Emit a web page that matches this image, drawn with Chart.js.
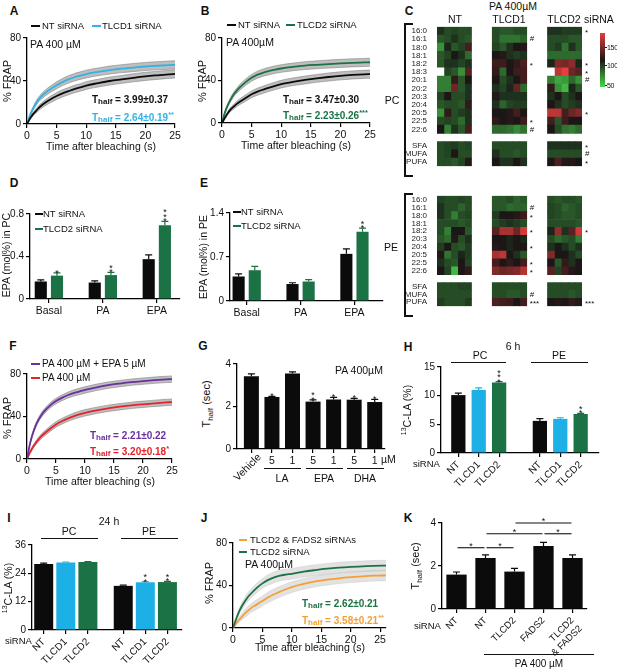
<!DOCTYPE html>
<html>
<head>
<meta charset="utf-8">
<script src="https://cdn.jsdelivr.net/npm/chart.js@4.4.0/dist/chart.umd.min.js"></script>
<style>
body{margin:0;background:#fff;}
#fig{position:relative;width:617px;height:670px;overflow:hidden;font-family:'Liberation Sans',Arial,sans-serif;color:#111;}
#fig canvas{position:absolute;}
.t{position:absolute;white-space:nowrap;font-size:10.5px;line-height:1;}
.c{transform:translate(-50%,-50%);}
.l{transform:translate(0,-50%);}
.r90{transform:translate(-50%,-50%) rotate(-90deg);}
.r45{transform:translate(-50%,-50%) rotate(-45deg);}
.pl{font-weight:bold;font-size:12px;}
.th{font-family:'Liberation Sans Narrow','Liberation Sans',Arial,sans-serif;font-weight:bold;font-size:10px;}
.th sub{font-size:8px;vertical-align:-1px;}
.th sup{font-size:7.5px;vertical-align:4px;}
.nw{font-family:'Liberation Sans Narrow','Liberation Sans',Arial,sans-serif;letter-spacing:-0.3px;}
.ln{position:absolute;background:#111;}
</style>
</head>
<body>
<div id="fig"></div>
<script>
// ---- FRAP curves (time in s, % FRAP) ----
var frapTime=[0,0.5,1,1.5,2,2.5,3,4,5,6,7,8,9,10,12,14,16,18,20,22,24,25];
var aNT=[0,5,9,12,15,17.5,19.5,23,26,28.5,30.5,32.5,34,35.8,38,40,41.5,43,44.3,45.3,46.2,46.6];
var aTLCD1=[0,8,14,19,23,26,28.5,32.5,36,39,41.5,43.5,45,46.5,48.5,50.2,51.5,52.5,53.5,54.2,54.8,55];
var bNT=[0,5,9.5,13,15.5,18,20,23.5,27,29.5,31.5,33.3,35,36.6,38.8,40.5,42,43.3,44.4,45.2,45.8,46];
var bTLCD2=[0,10,17,22.5,27,30.5,33.5,38.5,42.5,45.5,47.5,49,50.3,51.3,52.8,54,54.8,55.5,56.1,56.6,57,57.2];
var semAB=[0,1,1.5,2,2.2,2.5,2.7,3,3.2,3.3,3.4,3.5,3.5,3.6,3.6,3.7,3.7,3.8,3.8,3.8,3.8,3.8];
var fEPA=[0,14,24,31.5,37,41.5,45,50.5,54.5,57.5,60,62,63.5,65,67.5,69.5,71,72.3,73.3,74.2,74.9,75.2];
var fPA=[0,6,11,15,18.5,21.5,24,28.5,32.5,35.5,38,40.2,42,43.5,45.8,47.7,49.2,50.5,51.5,52.4,53.2,53.5];
var semF=[0,1,1.5,1.8,2,2.2,2.3,2.5,2.6,2.7,2.8,2.9,3,3,3,3,3,3,3,3,3,3];
var jTime=[0,0.5,1,1.5,2,2.5,3,4,5,6,7,8,9,10,12,14,16,18,20,22,24,26];
var jTLCD2=[0,8,15,20.5,25,29,32,37.5,42,45.3,47.7,49.4,50.3,51,53,54.5,55.8,56.8,57.5,58,58.5,58.8];
var jBoth=[0,4,7.5,10.5,13.5,16,18.5,22,25.5,29,31.8,34.2,36.5,38.5,41.5,43.8,45.5,46.8,47.8,48.6,49.2,49.5];
var semJ=[0,1.5,2.5,3,3.5,4,4,4.5,4.5,5,5,5,5,5,5,5,5,5,5,5,5,5];

// ---- D / E : EPA (mol%) ----
var deCats=['Basal','PA','EPA'];
var dNT=[0.165,0.155,0.375], dNTerr=[0.015,0.015,0.04];
var dTLCD2=[0.22,0.225,0.695], dTLCD2err=[0.025,0.025,0.035];
var dMarks=['*','**','***'];
var eNT=[0.39,0.27,0.75], eNTerr=[0.04,0.02,0.08];
var eTLCD2=[0.49,0.31,1.10], eTLCD2err=[0.06,0.03,0.06];
var eMarks=['','','**'];

// ---- G : Thalf with fatty acids ----
var gLabels=['Vehicle','5','1','5','1','5','1'];
var gVals=[3.42,2.45,3.55,2.23,2.33,2.32,2.21];
var gErr=[0.12,0.03,0.08,0.08,0.1,0.06,0.13];
var gMarks=['','*','','**','*','*','*'];

// ---- H / I : 13C-LA ----
var hiLabels=['NT','TLCD1','TLCD2','NT','TLCD1','TLCD2'];
var hVals=[10.1,11.0,12.3,5.6,5.95,6.8];
var hErr=[0.35,0.35,0.15,0.4,0.2,0.1];
var hMarks=['','','***','','','**'];
var iVals=[28.0,28.6,28.8,18.7,20.2,20.3];
var iErr=[0.3,0.2,0.2,0.3,0.3,0.3];
var iMarks=['','','','','**','**'];

// ---- K ----
var kLabels=['NT','NT','TLCD2','FADS2',['TLCD2','& FADS2']];
var kVals=[1.6,2.37,1.74,2.93,2.37];
var kErr=[0.12,0.15,0.15,0.17,0.15];
var kPairs=[[0,1,2.85],[1,2,2.85],[1,3,3.5],[3,4,3.5],[2,4,4.0]];

// ---- C : heat map (% of control) ----
var pcRows=['16:0','16:1','18:0','18:1','18:2','18:3','20:1','20:2','20:3','20:4','20:5','22:5','22:6','','SFA','MUFA','PUFA'];
var pcNT=[[95,88,90,88,88],[85,88,95,88,85],[70,98,85,90,110],[85,90,100,95,80],[85,95,95,90,95],[null,90,85,70,115],[75,75,105,85,100],[75,75,120,85,95],[90,100,88,88,95],[85,88,88,85,105],[70,105,88,92,95],[88,90,88,80,95],[100,75,95,85,110],[88,90,92,88,90],[88,90,100,88,88],[88,88,85,90,102]];
var pcTLCD1=[[88,85,85,88,88],[88,78,78,78,82],[90,85,95,100,102],[100,102,95,92,95],[108,108,100,105,112],[105,80,100,108,110],[100,88,95,100,110],[95,90,98,118,80],[102,95,95,95,95],[95,82,90,92,92],[100,100,102,110,100],[105,100,102,100,108],[80,80,78,72,78],[88,88,88,88,88],[95,88,88,85,88],[100,95,95,100,95]];
var pcTLCD2=[[95,95,92,92,92],[88,88,88,85,85],[88,92,78,95,85],[80,80,80,80,80],[98,125,122,128,98],[null,140,150,120,115],[75,65,68,80,70],[105,70,60,98,85],[95,100,88,95,100],[100,95,88,92,95],[140,140,110,120,125],[110,85,108,100,100],[100,88,78,75,80],[95,95,95,95,95],[88,88,88,88,88],[100,112,102,102,100]];
var pcMarksTLCD1=['','#','','','*','','','','','','','*','#','','',''];
var pcMarksTLCD2=['*','','','','*','*','#','','','','*','','','*','#','*'];
var peRows=['16:0','16:1','18:0','18:1','18:2','20:3','20:4','20:5','22:5','22:6','','SFA','MUFA','PUFA'];
var peNT=[[90,88,88,90,88],[95,88,88,82,88],[95,88,75,88,90],[88,88,88,85,88],[88,75,100,100,85],[85,80,102,88,95],[92,100,88,85,92],[102,78,88,98,92],[95,88,85,100,90],[100,90,60,100,105],[88,88,88,90,90],[88,88,88,88,88],[92,88,88,88,92]];
var peTLCD1=[[85,85,88,82,85],[85,85,80,82,82],[92,100,100,102,108],[88,92,95,92,88],[115,135,135,120,145],[100,100,98,100,98],[102,100,98,100,100],[135,140,100,95,85],[110,100,105,100,110],[125,120,122,125,138],[88,88,88,88,88],[88,88,85,85,88],[112,110,108,100,110]];
var peTLCD2=[[88,85,88,88,85],[90,88,82,85,88],[90,88,85,85,88],[88,88,88,88,85],[98,130,95,115,145],[88,80,85,88,75],[95,100,95,88,95],[125,100,100,95,88],[100,85,105,95,100],[115,90,110,102,100],[88,88,88,88,88],[88,88,88,85,88],[100,102,100,105,102]];
var peMarksTLCD1=['','#','*','','*','','*','','*','*','','#','***'];
var peMarksTLCD2=['','','','','*','','','','','','','','***'];

var BLACK='#0b0b0b', BLUE='#1cb0e6', GREEN='#1b7244', PURPLE='#6b2fa0', RED='#e5232b', ORANGE='#f4a033';
var FONT="'Liberation Sans', Arial, sans-serif";

Chart.defaults.font.family=FONT;
Chart.defaults.font.size=10;
Chart.defaults.color='#111';
Chart.defaults.animation=false;
Chart.defaults.plugins.legend.display=false;
Chart.defaults.plugins.tooltip.enabled=false;

// error bars + significance stars on bars
Chart.register({
  id:'errs',
  afterDatasetsDraw:function(chart){
    var ctx=chart.ctx, ys=chart.scales.y;
    chart.data.datasets.forEach(function(ds,di){
      if(!ds.errors) return;
      var meta=chart.getDatasetMeta(di);
      meta.data.forEach(function(bar,i){
        var v=ds.data[i].y, e=ds.errors[i];
        var col=Array.isArray(ds.backgroundColor)?ds.backgroundColor[i]:ds.backgroundColor;
        var top=ys.getPixelForValue(v+e);
        ctx.save();
        ctx.strokeStyle=col; ctx.lineWidth=1.2;
        ctx.beginPath(); ctx.moveTo(bar.x,bar.y); ctx.lineTo(bar.x,top);
        ctx.moveTo(bar.x-3.5,top); ctx.lineTo(bar.x+3.5,top); ctx.stroke();
        var m=ds.marks?ds.marks[i]:'';
        ctx.fillStyle='#111'; ctx.font="9px "+FONT; ctx.textAlign='center';
        for(var k=0;k<m.length;k++) ctx.fillText(m[k],bar.x,top+3-k*4.5);
        ctx.restore();
      });
    });
  }
});

var fig=document.getElementById('fig');

function mount(plot,m){
  var c=document.createElement('canvas');
  var w=plot[2]-plot[0]+m.l+m.r, h=plot[3]-plot[1]+m.t+m.b;
  c.width=w; c.height=h;
  c.style.left=(plot[0]-m.l)+'px'; c.style.top=(plot[1]-m.t)+'px';
  c.style.width=w+'px'; c.style.height=h+'px';
  fig.appendChild(c);
  return c;
}
function yAxis(min,max,step,m){
  return {type:'linear',min:min,max:max,
    ticks:{stepSize:step,padding:2,font:{size:10},color:'#111'},
    grid:{drawOnChartArea:false,tickLength:4,color:'#000',lineWidth:1.2},
    border:{color:'#000',width:1.3},
    afterFit:function(s){s.width=m.l;}};
}
function xAxis(min,max,tickVals,labels,m,rot,fs){
  return {type:'linear',min:min,max:max,offset:false,
    afterBuildTicks:function(s){s.ticks=tickVals.map(function(v){return {value:v};});},
    ticks:{autoSkip:false,padding:2,font:{size:fs||10.5},color:'#111',minRotation:rot||0,maxRotation:rot||0,
      callback:function(v,i){return labels?labels[i]:v;}},
    grid:{offset:false,drawOnChartArea:false,tickLength:4,color:'#000',lineWidth:1.2},
    border:{color:'#000',width:1.3},
    afterFit:function(s){s.height=m.b;}};
}
function opts(m,x,y){
  return {responsive:false,layout:{padding:{left:0,top:m.t,right:m.r,bottom:0}},scales:{x:x,y:y}};
}
function pts(xs,vs){return xs.map(function(x,i){return {x:x,y:vs[i]};});}

function frapChart(plot,xmax,series){
  var m={l:24,t:8,r:10,b:20};
  var c=mount(plot,m);
  var ds=[];
  series.forEach(function(s){
    ds.push({data:pts(s.t,s.v),borderColor:s.color,borderWidth:1.8,pointRadius:0,fill:false,cubicInterpolationMode:'monotone'});
  });
  series.forEach(function(s){
    ds.push({data:pts(s.t,s.v.map(function(v,i){return v+s.sem[i];})),borderColor:s.edge,borderWidth:0.6,pointRadius:0,fill:false,cubicInterpolationMode:'monotone'});
    ds.push({data:pts(s.t,s.v.map(function(v,i){return Math.max(0,v-s.sem[i]);})),borderColor:s.edge,borderWidth:0.6,pointRadius:0,fill:'-1',backgroundColor:s.band,cubicInterpolationMode:'monotone'});
  });
  new Chart(c,{type:'line',data:{datasets:ds},
    options:opts(m,xAxis(0,xmax,[0,5,10,15,20,25],null,m),yAxis(0,80,40,m))});
}

function barChart(plot,m,xr,xs,labels,rot,yr,datasets,extraPlugins,fs){
  var c=mount(plot,m);
  new Chart(c,{type:'bar',data:{datasets:datasets},
    options:opts(m,xAxis(xr[0],xr[1],xs,labels,m,rot,fs),yAxis(yr[0],yr[1],yr[2],m)),
    plugins:extraPlugins||[]});
}

function heat(v){
  if(v==null) return 'rgba(255,255,255,1)';
  var t=Math.max(-1,Math.min(1,(v-100)/50));
  if(t<0){var a=-t;return 'rgb('+Math.round(24+55*a)+','+Math.round(30+190*a)+','+Math.round(24+55*a)+')';}
  return 'rgb('+Math.round(28+200*t)+','+Math.round(22+40*t)+','+Math.round(22+40*t)+')';
}

function heatChart(plot,rows,groups,marks){
  var m={l:37,t:4,r:26,b:0};
  var c=mount(plot,m);
  var gap=rows.indexOf('');
  var ds=[];
  groups.forEach(function(g,gi){
    for(var col=0;col<5;col++){
      ds.push({data:rows.map(function(){return 1;}),borderWidth:0,barPercentage:1,categoryPercentage:1,
        backgroundColor:rows.map(function(r,ri){
          if(ri===gap) return 'rgba(0,0,0,0)';
          return heat(g[ri<gap?ri:ri-1][col]);})});
    }
    if(gi<2) for(var k=0;k<3;k++) ds.push({data:rows.map(function(){return 1;}),backgroundColor:'rgba(0,0,0,0)',borderWidth:0,barPercentage:1,categoryPercentage:1});
  });
  new Chart(c,{type:'bar',data:{labels:rows,datasets:ds},
    options:{indexAxis:'y',responsive:false,layout:{padding:{left:0,top:m.t,right:m.r,bottom:0}},
      scales:{x:{stacked:true,min:0,max:21,display:false},
        y:{stacked:true,grid:{display:false},border:{display:false},
          ticks:{padding:2,font:{size:8},color:'#222',autoSkip:false},
          afterFit:function(s){s.width=m.l;}}}},
    plugins:[{id:'cellmarks',afterDraw:function(ch){
      var ctx=ch.ctx,xs=ch.scales.x,ys=ch.scales.y;
      ctx.save();ctx.fillStyle='#111';ctx.font="8px "+FONT;ctx.textBaseline='middle';
      marks.forEach(function(mk){
        var x=xs.getPixelForValue(mk.end)+3;
        rows.forEach(function(r,ri){
          if(ri===gap) return;
          var s=mk.list[ri<gap?ri:ri-1];
          if(s) ctx.fillText(s,x,ys.getPixelForValue(ri)+(s==='#'?0:2));
        });
      });
      ctx.restore();
    }}]});
}

// ---------- charts ----------
frapChart([27,38,175,124],25,[
  {t:frapTime,v:aNT,sem:semAB,color:BLACK,band:'rgba(125,125,125,0.5)',edge:'rgba(110,110,110,0.8)'},
  {t:frapTime,v:aTLCD1,sem:semAB,color:'#33b3e3',band:'rgba(125,125,125,0.5)',edge:'rgba(110,110,110,0.8)'}]);
frapChart([222,38,370,123],25,[
  {t:frapTime,v:bNT,sem:semAB,color:BLACK,band:'rgba(125,125,125,0.5)',edge:'rgba(110,110,110,0.8)'},
  {t:frapTime,v:bTLCD2,sem:semAB,color:GREEN,band:'rgba(125,125,125,0.5)',edge:'rgba(110,110,110,0.8)'}]);
frapChart([27,374,172,459],25,[
  {t:frapTime,v:fEPA,sem:semF,color:PURPLE,band:'rgba(125,125,125,0.5)',edge:'rgba(110,110,110,0.8)'},
  {t:frapTime,v:fPA,sem:semF,color:RED,band:'rgba(125,125,125,0.5)',edge:'rgba(110,110,110,0.8)'}]);
frapChart([233,543,386,628],26,[
  {t:jTime,v:jTLCD2,sem:semJ,color:GREEN,band:'rgba(190,190,190,0.45)',edge:'rgba(200,200,200,0.8)'},
  {t:jTime,v:jBoth,sem:semJ,color:ORANGE,band:'rgba(190,190,190,0.45)',edge:'rgba(200,200,200,0.8)'}]);

function grouped(a,ae,b,be,marks){
  return [
    {data:pts([1,2,3],a),errors:ae,backgroundColor:BLACK,barPercentage:0.75,categoryPercentage:0.6},
    {data:pts([1,2,3],b),errors:be,marks:marks,backgroundColor:GREEN,barPercentage:0.75,categoryPercentage:0.6}];
}
barChart([30,214,180,299],{l:22,t:8,r:8,b:18},[0.65,3.43],[1,2,3],deCats,0,[0,0.8,0.4],
  grouped(dNT,dNTerr,dTLCD2,dTLCD2err,dMarks));
barChart([230,213,383,301],{l:22,t:8,r:8,b:18},[0.69,3.53],[1,2,3],deCats,0,[0,1.4,0.7],
  grouped(eNT,eNTerr,eTLCD2,eTLCD2err,eMarks));

barChart([237,364,385,449],{l:16,t:8,r:8,b:20},[0.3,7.5],[1,2,3,4,5,6,7],
  gLabels.map(function(l,i){return i===0?'':l;}),0,[0,4,2],
  [{data:pts([1,2,3,4,5,6,7],gVals),errors:gErr,marks:gMarks,backgroundColor:BLACK,barPercentage:0.73,categoryPercentage:1}]);

var hiCols=[BLACK,BLUE,GREEN,BLACK,BLUE,GREEN];
barChart([441,367,599,453],{l:20,t:8,r:6,b:36},[0.15,7.9],[1,2,3,5,6,7],hiLabels,45,[0,15,5],
  [{data:pts([1,2,3,5,6,7],hVals),errors:hErr,marks:hMarks,backgroundColor:hiCols,barPercentage:0.7,categoryPercentage:1}],null,10);
barChart([32,545,182,630],{l:20,t:8,r:6,b:38},[0.47,7.26],[1,2,3,4.6,5.6,6.6],hiLabels,45,[0,36,12],
  [{data:pts([1,2,3,4.6,5.6,6.6],iVals),errors:iErr,marks:iMarks,backgroundColor:hiCols,barPercentage:0.86,categoryPercentage:1}],null,10);

barChart([442,523,587,609],{l:18,t:8,r:8,b:48},[0.5,5.5],[1,2,3,4,5],kLabels,45,[0,4,2],
  [{data:pts([1,2,3,4,5],kVals),errors:kErr,backgroundColor:BLACK,barPercentage:0.7,categoryPercentage:1}],
  [{id:'kpairs',afterDatasetsDraw:function(ch){
    var ctx=ch.ctx,xs=ch.scales.x,ys=ch.scales.y;
    ctx.save();ctx.strokeStyle='#111';ctx.lineWidth=1.1;ctx.fillStyle='#111';ctx.font="9px "+FONT;ctx.textAlign='center';
    kPairs.forEach(function(p){
      var x0=xs.getPixelForValue(p[0]+1)+1,x1=xs.getPixelForValue(p[1]+1)-1,y=ys.getPixelForValue(p[2]);
      ctx.beginPath();ctx.moveTo(x0,y);ctx.lineTo(x1,y);ctx.stroke();
      ctx.fillText('*',(x0+x1)/2,y+1);
    });
    ctx.restore();
  }}],9.5);

heatChart([437,24,582,173],pcRows,[pcNT,pcTLCD1,pcTLCD2],[{end:13,list:pcMarksTLCD1},{end:21,list:pcMarksTLCD2}]);
heatChart([437,193,582,313],peRows,[peNT,peTLCD1,peTLCD2],[{end:13,list:peMarksTLCD1},{end:21,list:peMarksTLCD2}]);

// ---------- text & decorations ----------
function txt(html,x,y,cls,size,color){
  var d=document.createElement('div');
  d.className='t '+(cls||'c');
  d.innerHTML=html;d.style.left=x+'px';d.style.top=y+'px';
  if(size) d.style.fontSize=size+'px';
  if(color) d.style.color=color;
  fig.appendChild(d);
}
function line(x,y,w,h,color){
  var d=document.createElement('div');
  d.className='ln';d.style.left=x+'px';d.style.top=y+'px';d.style.width=w+'px';d.style.height=h+'px';
  if(color) d.style.background=color;
  fig.appendChild(d);
}
function dash(x,y,w,color){line(x,y-1,w,2,color);}
function thalf(val,x,y,color,star){
  txt('T<sub>half</sub> = '+val+(star?'<sup>'+star+'</sup>':''),x,y,'l th',null,color);
}

[['A',14,11],['B',205,11],['C',409,11],['D',14,183],['E',204,183],['F',13,346],['G',203,346],['H',408,347],['I',9,518],['J',204,518],['K',408,518]]
  .forEach(function(p){txt(p[0],p[1],p[2],'c pl');});

// A
dash(31,26,9,BLACK);txt('NT siRNA',42,26,'l',9.5);
dash(92,26,9,'#33b3e3');txt('TLCD1 siRNA',102,26,'l',9.5);
txt('PA 400 µM',30,44,'l',10.5);
txt('% FRAP',7,81,'r90',11);
txt('Time after bleaching (s)',101,146,'c',10.5);
thalf('3.99±0.37',92,100,'#111');
thalf('2.64±0.19',92,117,'#33b3e3','**');
// B
dash(227,25,9,BLACK);txt('NT siRNA',238,25,'l',9.5);
dash(286,25,9,GREEN);txt('TLCD2 siRNA',297,25,'l',9.5);
txt('PA 400µM',226,42,'l',10.5);
txt('% FRAP',202,81,'r90',11);
txt('Time after bleaching (s)',296,145,'c',10.5);
thalf('3.47±0.30',283,100,'#111');
thalf('2.23±0.26',283,115,GREEN,'***');
// C
txt('PA 400µM',513,6,'c',10.5);
txt('NT',455,19,'c',10.5);txt('TLCD1',509,19,'c',10.5);txt('TLCD2',564,19,'c',10.5);txt('siRNA',599,19,'c',10.5);
var cb=document.createElement('div');
cb.style.cssText='position:absolute;left:600px;top:33px;width:5px;height:54px;background:linear-gradient(#e43e3e,#1c1616 50%,#48da48);';
fig.appendChild(cb);
[['150',47],['100',65],['50',85]].forEach(function(p){line(605,p[1],1.5,1);txt(p[0],607,p[1],'l nw',7);});
line(404,23,1.5,153);line(404,23,9,1.5);line(404,175,9,1.5);
line(404,193,1.5,123);line(404,193,9,1.5);line(404,315,9,1.5);
txt('PC',392,100,'c',10.5);txt('PE',391,247,'c',10.5);
// D
dash(35,214,8,BLACK);txt('NT siRNA',43,214,'l',9.5);
dash(35,229,8,GREEN);txt('TLCD2 siRNA',43,229,'l',9.5);
txt('EPA (mol%) in PC',6,255,'r90',10.5);
// E
dash(233,212,8,BLACK);txt('NT siRNA',241,212,'l',9.5);
dash(233,226,8,GREEN);txt('TLCD2 siRNA',241,226,'l',9.5);
txt('EPA (mol%) in PE',203,257,'r90',10.5);
// F
dash(31,364,9,PURPLE);txt('PA 400 µM + EPA 5 µM',42,364,'l',10);
dash(31,378,9,RED);txt('PA 400 µM',42,378,'l',10);
txt('% FRAP',7,418,'r90',11);
txt('Time after bleaching (s)',100,481,'c',10.5);
thalf('2.21±0.22',90,436,PURPLE);
thalf('3.20±0.18',90,451,RED,'*');
// G
txt('PA 400µM',335,370,'l',10.5);
txt('T<sub style="font-size:8px">half</sub> (sec)',208,404,'r90',11);
txt('Vehicle',247,467,'r45',10.5);
txt('µM',381,459,'l',10.5);
line(264,468,37,1.2);txt('LA',282,478,'c',10.5);
line(306,468,37,1.2);txt('EPA',324,478,'c',10.5);
line(347,468,37,1.2);txt('DHA',365,478,'c',10.5);
// H
txt('6 h',513,346,'c',10.5);
txt('PC',480,355,'c',10.5);line(451,362,55,1.2);
txt('PE',559,355,'c',10.5);line(531,362,57,1.2);
txt('<sup style="font-size:7px">13</sup>C-LA (%)',406,410,'r90',10.5);
txt('siRNA',413,464,'l',9.5);
// I
txt('24 h',109,521,'c',10.5);
txt('PC',69,531,'c',10.5);line(41,538,57,1.2);
txt('PE',149,531,'c',10.5);line(121,538,57,1.2);
txt('<sup style="font-size:7px">13</sup>C-LA (%)',7,588,'r90',10.5);
txt('siRNA',5,641,'l',9.5);
// J
dash(239,540,8,ORANGE);txt('TLCD2 &amp; FADS2 siRNAs',250,540,'l',9.5);
dash(239,552,8,GREEN);txt('TLCD2 siRNA',250,552,'l',9.5);
txt('PA 400µM',245,564,'l',10.5);
txt('% FRAP',209,583,'r90',11);
txt('Time after bleaching (s)',310,647,'c',10.5);
thalf('2.62±0.21',302,604,GREEN);
thalf('3.58±0.21',302,620,ORANGE,'**');
// K
txt('T<sub style="font-size:8px">half</sub> (sec)',417,566,'r90',11);
txt('siRNA',414,626,'l',9.5);
line(484,654,110,1.2);txt('PA 400 µM',539,664,'c',10);
</script>
</body>
</html>
